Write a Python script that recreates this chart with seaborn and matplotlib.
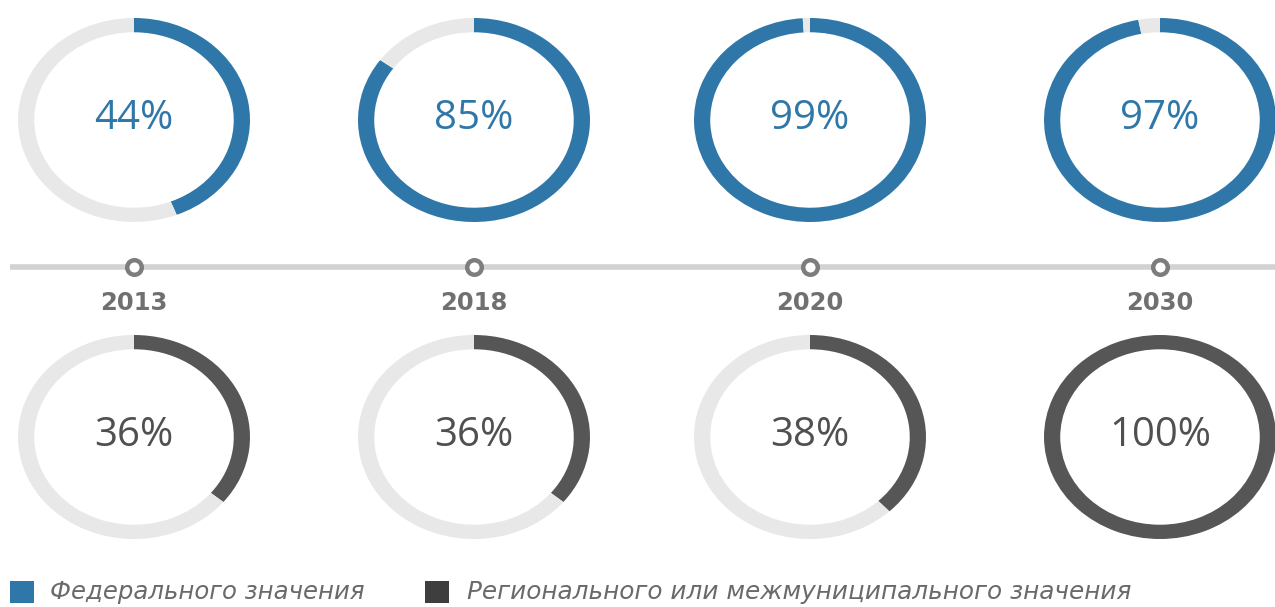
import matplotlib
matplotlib.use("Agg")
import matplotlib.pyplot as plt
import seaborn as sns
import pandas as pd
from matplotlib.patches import Rectangle

sns.set_theme(style="white")
plt.rcParams['font.family'] = ['Open Sans', 'DejaVu Sans']

years = ["2013", "2018", "2020", "2030"]
federal = [44, 85, 99, 97]
regional = [36, 36, 38, 100]
legend_labels = ["Федерального значения", "Регионального или межмуниципального значения"]

BLUE = "#2e77a8"
DARK = "#565656"
LIGHT = "#e8e8e8"

W, H = 1275, 607
fig = plt.figure(figsize=(W / 100, H / 100), dpi=100)

# layout (pixels)
centers_x = [134, 474, 810, 1160]
top_cy, bot_cy = 120, 437
rx, ry = 116, 102

def donut(cx, cy, value, color, txtcolor):
    ax = fig.add_axes([(cx - rx) / W, (H - cy - ry) / H, 2 * rx / W, 2 * ry / H])
    vals = [value, 100 - value] if value < 100 else [100]
    cols = [color, LIGHT] if value < 100 else [color]
    ax.pie(vals, colors=cols, startangle=90, counterclock=False,
           radius=1.0, wedgeprops=dict(width=0.14, edgecolor="none"))
    ax.set_aspect("auto")
    ax.set_xlim(-1, 1)
    ax.set_ylim(-1, 1)
    ax.axis("off")
    ax.text(0, 0.01, f"{value}%", ha="center", va="center", fontsize=29,
            color=txtcolor)

for cx, f, r in zip(centers_x, federal, regional):
    donut(cx, top_cy, f, BLUE, BLUE)
    donut(cx, bot_cy, r, DARK, "#505050")

# overlay axis in pixel coordinates
ov = fig.add_axes([0, 0, 1, 1], zorder=-1)
ov.set_xlim(0, W)
ov.set_ylim(H, 0)
ov.axis("off")

ov.plot([10, W], [267, 267], color="#d2d2d2", lw=4, solid_capstyle="butt", zorder=1)
df = pd.DataFrame({"x": centers_x, "y": [267] * 4, "year": years})
sns.scatterplot(data=df, x="x", y="y", ax=ov, s=110, color="white",
                edgecolor="#7d7d7d", linewidth=3.2, zorder=3, legend=False)
ov.set_xlim(0, W)
ov.set_ylim(H, 0)
ov.axis("off")
for x, y in zip(centers_x, years):
    ov.text(x, 310, y, ha="center", va="baseline", fontsize=17.5, fontweight="bold",
            color="#707070", family="DejaVu Sans")

# legend
ov.add_patch(Rectangle((10, 581), 24, 22, color=BLUE, lw=0))
ov.text(50, 599, legend_labels[0], ha="left", va="baseline", fontsize=17.6,
        style="italic", color="#6a6a6a", family="DejaVu Sans")
ov.add_patch(Rectangle((425, 581), 24, 22, color="#3e3e3e", lw=0))
ov.text(467, 599, legend_labels[1], ha="left", va="baseline", fontsize=17.8,
        style="italic", color="#6a6a6a", family="DejaVu Sans")

fig.savefig("out.png", dpi=100)
